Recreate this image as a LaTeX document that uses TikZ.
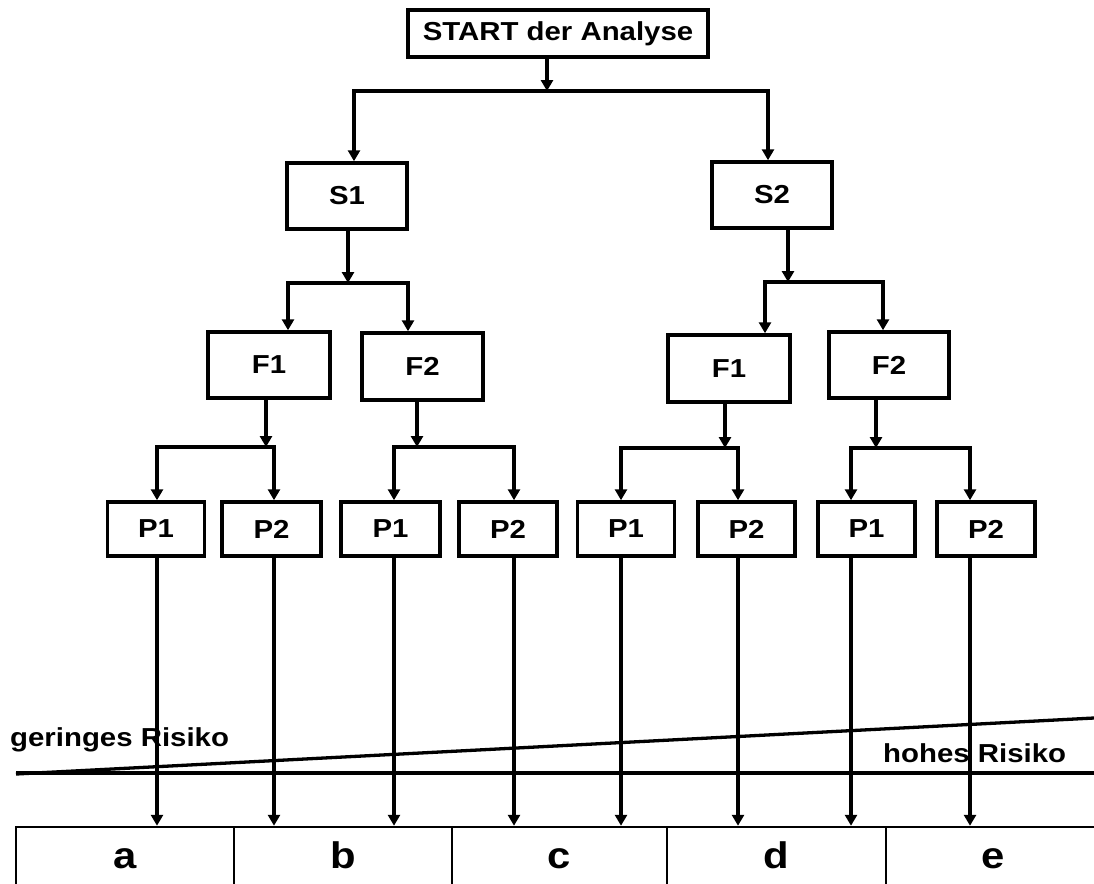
\documentclass[tikz,border=0pt]{standalone}
\usepackage{fontspec}
\setmainfont{Liberation Sans}[FakeStretch=1.13]
\usetikzlibrary{arrows.meta}
\begin{document}
\begin{tikzpicture}[x=1pt,y=-1pt,
  box/.style={draw,line width=3.5pt,rectangle,inner sep=0pt,
    font=\fontsize{26}{30}\selectfont\bfseries},
  pbox/.style={box,minimum width=97pt,minimum height=54pt},
  arr/.style={line width=3.3pt,line join=miter,-{Triangle[width=12pt,length=11pt]}},
  ln/.style={line width=3.3pt},
  cell/.style={draw,line width=2.5pt,inner sep=0pt,minimum height=60pt,
    text height=27pt,text depth=4pt,font=\fontsize{37}{40}\selectfont\bfseries},
  risk/.style={font=\fontsize{26}{30}\selectfont\bfseries,inner sep=0pt}]
\useasboundingbox (0,0) rectangle (1094,883);

% decision levels
\node[box,minimum width=300pt,minimum height=47pt] (start) at (558,33.5) {START der Analyse};
\node[box,minimum width=120pt,minimum height=66pt] (s1) at (347,196) {S1};
\node[box,minimum width=120pt,minimum height=66pt] (s2) at (772,195) {S2};
\node[box,minimum width=122pt,minimum height=66pt] (f1l) at (269,365) {F1};
\node[box,minimum width=121pt,minimum height=67pt] (f2l) at (422.5,366.5) {F2};
\node[box,minimum width=122pt,minimum height=67pt] (f1r) at (729,368.5) {F1};
\node[box,minimum width=120pt,minimum height=66pt] (f2r) at (889,365) {F2};

\node[pbox] (p1a) at (156,529) {P1};
\node[pbox,minimum width=99pt] (p2a) at (271.5,529) {P2};
\node[pbox,minimum width=99pt] (p1b) at (390.5,529) {P1};
\node[pbox,minimum width=98pt] (p2b) at (508,529) {P2};
\node[pbox] (p1c) at (626,529) {P1};
\node[pbox] (p2c) at (746.5,529) {P2};
\node[pbox] (p1d) at (866.5,529) {P1};
\node[pbox,minimum width=98pt] (p2d) at (986,529) {P2};

% risk classes
\node[cell,minimum width=218pt] (ca) at (125,857) {a};
\node[cell,minimum width=218pt] (cb) at (343,857) {b};
\node[cell,minimum width=215pt] (cc) at (559.5,857) {c};
\node[cell,minimum width=219pt] (cd) at (776.5,857) {d};
\node[cell,minimum width=214pt] (ce) at (993,857) {e};

% branching points
\coordinate (j0) at (547,91);  \coordinate (bl0) at (354,91);  \coordinate (br0) at (768,91);
\coordinate (j1) at (348,283); \coordinate (bl1) at (288,283); \coordinate (br1) at (408,283);
\coordinate (j2) at (788,282); \coordinate (bl2) at (765,282); \coordinate (br2) at (883,282);
\coordinate (j3) at (266,447); \coordinate (bl3) at (157,447); \coordinate (br3) at (274,447);
\coordinate (j4) at (417,447); \coordinate (bl4) at (394,447); \coordinate (br4) at (514,447);
\coordinate (j5) at (725,448); \coordinate (bl5) at (621,448); \coordinate (br5) at (738,448);
\coordinate (j6) at (876,448); \coordinate (bl6) at (851,448); \coordinate (br6) at (970,448);

% tree connectors
\draw[arr] (start.south -| j0) -- (j0);
\draw[arr] (j0) -- (bl0) -- (s1.north -| bl0);
\draw[arr] (j0) -- (br0) -- (s2.north -| br0);

\draw[arr] (s1.south -| j1) -- (j1);
\draw[arr] (j1) -- (bl1) -- (f1l.north -| bl1);
\draw[arr] (j1) -- (br1) -- (f2l.north -| br1);

\draw[arr] (s2.south -| j2) -- (j2);
\draw[arr] (j2) -- (bl2) -- (f1r.north -| bl2);
\draw[arr] (j2) -- (br2) -- (f2r.north -| br2);

\draw[arr] (f1l.south -| j3) -- (j3);
\draw[arr] (j3) -- (bl3) -- (p1a.north -| bl3);
\draw[arr] (j3) -- (br3) -- (p2a.north -| br3);

\draw[arr] (f2l.south -| j4) -- (j4);
\draw[arr] (j4) -- (bl4) -- (p1b.north -| bl4);
\draw[arr] (j4) -- (br4) -- (p2b.north -| br4);

\draw[arr] (f1r.south -| j5) -- (j5);
\draw[arr] (j5) -- (bl5) -- (p1c.north -| bl5);
\draw[arr] (j5) -- (br5) -- (p2c.north -| br5);

\draw[arr] (f2r.south -| j6) -- (j6);
\draw[arr] (j6) -- (bl6) -- (p1d.north -| bl6);
\draw[arr] (j6) -- (br6) -- (p2d.north -| br6);

% risk scale
\coordinate (rl) at (16,773);
\coordinate (rr) at (1094,773);
\coordinate (rt) at (1094,718);
\draw[ln] (rl) -- (rr);
\draw[ln] (16,774) -- (rt);
\node[risk,anchor=base west] (lo) at (10,746) {geringes Risiko};
\node[risk,anchor=base west] (hi) at (883,762) {hohes Risiko};

% leaves into classes
\draw[arr] (p1a.south -| bl3) -- (ca.north -| bl3);
\draw[arr] (p2a.south -| br3) -- (cb.north -| br3);
\draw[arr] (p1b.south -| bl4) -- (cb.north -| bl4);
\draw[arr] (p2b.south -| br4) -- (cc.north -| br4);
\draw[arr] (p1c.south -| bl5) -- (cc.north -| bl5);
\draw[arr] (p2c.south -| br5) -- (cd.north -| br5);
\draw[arr] (p1d.south -| bl6) -- (cd.north -| bl6);
\draw[arr] (p2d.south -| br6) -- (ce.north -| br6);
\end{tikzpicture}
\end{document}
